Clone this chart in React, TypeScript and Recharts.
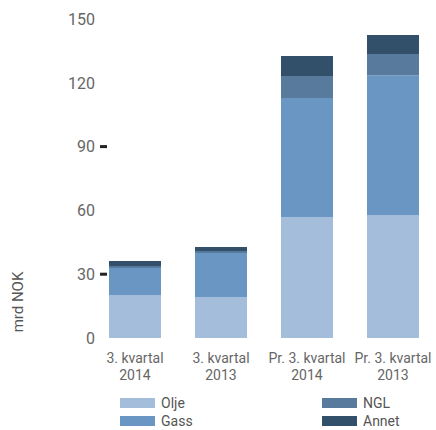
import React from 'react';
import { BarChart, Bar, XAxis, YAxis, Label } from 'recharts';

const categories = ['3. kvartal|2014', '3. kvartal|2013', 'Pr. 3. kvartal|2014', 'Pr. 3. kvartal|2013'];
const olje = [20.2, 19.3, 56.9, 57.8];
const gass = [12.7, 20.7, 55.9, 65.8];
const ngl = [1.0, 0.9, 10.4, 9.9];
const annet = [2.3, 1.9, 9.4, 9.0];
const yTicks = [0, 30, 60, 90, 120, 150];
const markedTicks = [30, 90];

const seriesNames = ['Olje', 'Gass', 'NGL', 'Annet'];
const seriesKeys = ['olje', 'gass', 'ngl', 'annet'];
const seriesColors = ['#a4bdda', '#6996c3', '#587a9d', '#33506b'];

const data = categories.map((c, i) => ({
  cat: c,
  olje: olje[i],
  gass: gass[i],
  ngl: ngl[i],
  annet: annet[i],
}));

const FONT = 'Roboto, sans-serif';

const XTick = (props: any) => {
  const { x, payload } = props;
  const [l1, l2] = String(payload.value).split('|');
  return (
    <g>
      <text x={x} y={363} textAnchor="middle" fill="#666" fontSize={14} fontFamily={FONT}>{l1}</text>
      <text x={x} y={380} textAnchor="middle" fill="#666" fontSize={14} fontFamily={FONT}>{l2}</text>
    </g>
  );
};

const YTick = (props: any) => {
  const { y, payload } = props;
  const marked = markedTicks.includes(payload.value);
  return (
    <g>
      <text x={95} y={y} dy="0.36em" textAnchor="end" fill="#666" fontSize={16} fontFamily={FONT}>{payload.value}</text>
      {marked && <rect x={100} y={y - 1.5} width={7} height={3} fill="#222" />}
    </g>
  );
};

const YLabel = () => (
  <text x={18} y={302} transform="rotate(-90 18 302)" textAnchor="middle" dy="0.36em" fill="#555" fontSize={15} fontFamily={FONT}>mrd NOK</text>
);

const legendPos = [
  { left: 120, top: 398 },
  { left: 120, top: 416 },
  { left: 322, top: 398 },
  { left: 322, top: 416 },
];

export default function App() {
  return (
    <div style={{ position: 'absolute', left: 0, top: 0, width: 436, height: 430, background: '#fff', overflow: 'hidden' }}>
      <BarChart width={436} height={430} data={data} margin={{ top: 19, right: 0, bottom: 62, left: 0 }} barSize={52}>
        <XAxis dataKey="cat" height={30} axisLine={false} tickLine={false} tick={<XTick />} interval={0} />
        <YAxis width={92} domain={[0, 150]} ticks={yTicks} axisLine={false} tickLine={false} tick={<YTick />}>
          <Label content={<YLabel />} />
        </YAxis>
        {seriesKeys.map((k, i) => (
          <Bar key={k} dataKey={k} stackId="a" fill={seriesColors[i]} isAnimationActive={false} />
        ))}
      </BarChart>
      {seriesNames.map((n, i) => (
        <div key={n} style={{ position: 'absolute', left: legendPos[i].left, top: legendPos[i].top - 2, display: 'flex', alignItems: 'center', fontFamily: FONT, fontSize: 14, color: '#555', lineHeight: '14px', height: 14 }}>
          <div style={{ width: 35, height: 10, background: seriesColors[i], marginRight: 6 }} />
          <span>{n}</span>
        </div>
      ))}
    </div>
  );
}
